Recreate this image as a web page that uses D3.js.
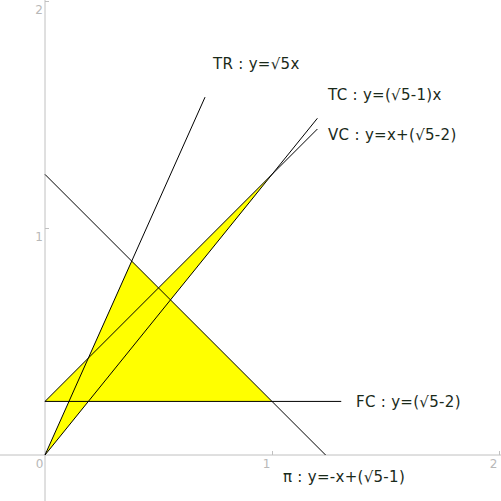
<!DOCTYPE html>
<html>
<head>
<meta charset="utf-8">
<script src="https://cdn.jsdelivr.net/npm/d3@7"></script>
<style>
  body { margin: 0; background: #fff; }
  .axis path, .axis line { stroke: #c0c0c0; }
  .axis text { fill: #b8b8b8; font-family: "DejaVu Sans", sans-serif; font-size: 12px; }
</style>
</head>
<body>
<div id="chart"></div>
<script>
// Canvas size
const width = 501;
const height = 501;

const r5 = Math.sqrt(5);

// Lines: y = slope * x + intercept, drawn from xStart to xEnd
const lineNames  = ["TR", "TC", "VC", "FC", "π"];
const slopes     = [r5, r5 - 1, 1, 0, -1];
const intercepts = [0, 0, r5 - 2, r5 - 2, r5 - 1];
const xStarts    = [0, 0, 0, 0, 0];
const xEnds      = [0.705, 1.2, 1.2, 1.305, 1.236];
const labels     = ["TR : y=√5x", "TC : y=(√5-1)x", "VC : y=x+(√5-2)", "FC : y=(√5-2)", "π : y=-x+(√5-1)"];

// Yellow regions (corner points in data units)
const regions = [
    // triangle under profit line, above FC, right of TR
    [[(r5 - 2) / r5, r5 - 2], [(r5 - 1) / (r5 + 1), r5 * (r5 - 1) / (r5 + 1)], [1, r5 - 2]],
    // band between VC and TC above FC
    [[0, r5 - 2], [1, r5 - 1], [(r5 - 2) / (r5 - 1), r5 - 2]],
    // band between TC and TR below FC
    [[0, 0], [(r5 - 2) / r5, r5 - 2], [(r5 - 2) / (r5 - 1), r5 - 2]]
];

// Axis ticks
const xTicks = [0, 1, 2];
const yTicks = [1, 2];

// Scales
const x = d3.scaleLinear().domain([0, 2]).range([45, 499]);
const y = d3.scaleLinear().domain([0, 2]).range([455, 1]);

const svg = d3.select("#chart")
    .append("svg")
    .attr("width", width)
    .attr("height", height);

// Fill regions
svg.selectAll(".region")
    .data(regions)
    .enter()
    .append("polygon")
    .attr("class", "region")
    .attr("points", d => d.map(p => `${x(p[0])},${y(p[1])}`).join(" "))
    .attr("fill", "#ffff00")
    .attr("stroke", "none");

// X axis
const gx = svg.append("g")
    .attr("class", "axis")
    .attr("transform", `translate(0,${y(0)})`)
    .call(d3.axisBottom(x).tickValues(xTicks).tickSize(-4).tickFormat(d3.format("d")));
gx.select(".domain").attr("d", `M0,0H${width}`);
gx.selectAll("text")
    .attr("text-anchor", "end")
    .attr("x", -2)
    .attr("y", 13)
    .attr("dy", 0);

// Y axis
const gy = svg.append("g")
    .attr("class", "axis")
    .attr("transform", `translate(${x(0)},0)`)
    .call(d3.axisRight(y).tickValues(yTicks).tickSize(4).tickFormat(d3.format("d")));
gy.select(".domain").attr("d", `M0,0V${height}`);
gy.selectAll("text")
    .attr("text-anchor", "end")
    .attr("x", -2)
    .attr("y", 12)
    .attr("dy", 0);

// Lines
svg.selectAll(".fn")
    .data(lineNames)
    .enter()
    .append("line")
    .attr("class", "fn")
    .attr("x1", (d, i) => x(xStarts[i]))
    .attr("y1", (d, i) => y(slopes[i] * xStarts[i] + intercepts[i]))
    .attr("x2", (d, i) => x(xEnds[i]))
    .attr("y2", (d, i) => y(slopes[i] * xEnds[i] + intercepts[i]))
    .attr("stroke", "#000")
    .attr("stroke-width", 1);

// Labels (data-unit anchor for each)
const labelX = [0.74, 1.247, 1.247, 1.37, 1.048];
const labelY = [1.70, 1.564, 1.388, 0.211, -0.119];

svg.selectAll(".label")
    .data(labels)
    .enter()
    .append("text")
    .attr("class", "label")
    .attr("x", (d, i) => x(labelX[i]))
    .attr("y", (d, i) => y(labelY[i]))
    .attr("font-family", "DejaVu Sans, sans-serif")
    .attr("font-size", "15px")
    .attr("letter-spacing", "0.3px")
    .attr("fill", "#1a2a1a")
    .text(d => d);
</script>
</body>
</html>
